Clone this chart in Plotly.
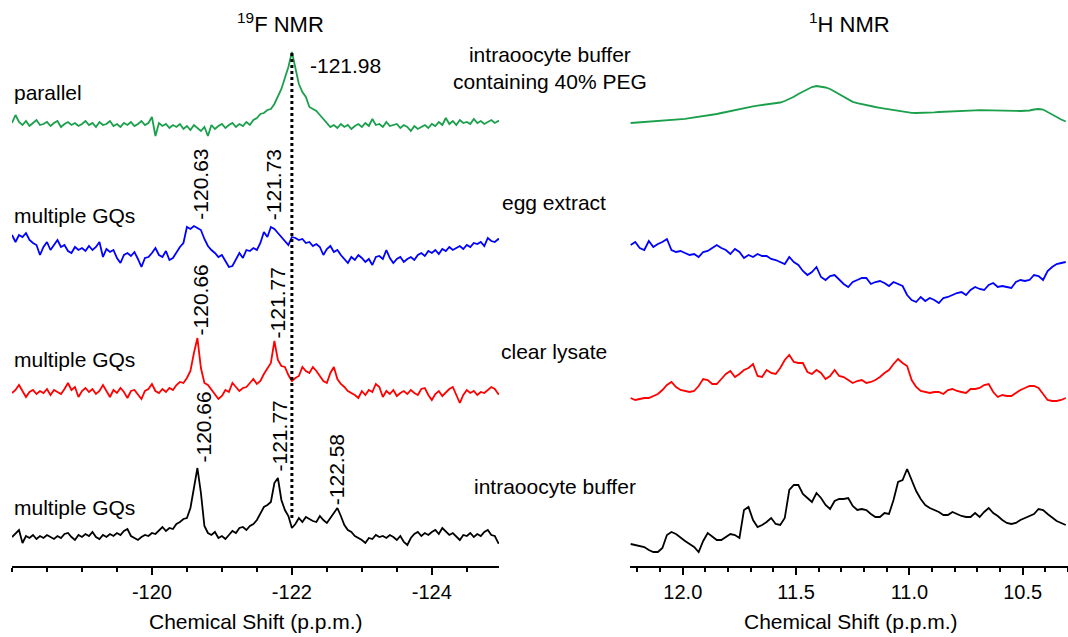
import numpy as np
import plotly.graph_objects as go

# ---------------- data ----------------
# 19F NMR chemical shift grid (p.p.m.), -118.00 ... -125.00 in 0.05 steps
F_PPM = np.round(-118.0 - 0.05 * np.arange(141), 2)
# 1H NMR chemical shift grid (p.p.m.), 12.23 ... 10.31 in 0.02 steps
H_PPM = np.round(12.23 - 0.02 * np.arange(97), 2)

# 19F intensities (arbitrary units)
F_PEG = [4, 12, 5, 2, 6, 1, 4, 7, 2, 3,
         5, 1, 4, 6, 0, 3, 5, 2, 4, 1,
         3, 6, 2, 4, 0, 5, 2, 3, 6, 1,
         3, 0, 4, 2, 5, 1, 3, 6, 2, 4,
         10, -9, 4, 1, 3, -1, 2, 0, 3, -2,
         1, -3, 2, -1, -4, 0, -9, 2, -2, 1,
         3, -1, 2, 4, 0, 3, 1, 5, 2, 7,
         9, 13, 14, 17, 18, 23, 30, 38, 49, 60,
         75, 58, 43, 35, 30, 20, 18, 16, 12, 8,
         4, 0, 2, -1, 3, 0, 2, -2, 1, 3,
         0, 4, 1, 8, 2, 3, 0, 5, 1, 2,
         3, -1, 2, 0, -4, 1, -2, 0, 2, -1,
         3, 1, 5, 2, 9, 3, 6, 2, 7, 4,
         5, 3, 8, 4, 6, 3, 5, 7, 4, 6, 5]
F_EGG = [20, 13, 20, 18, 22, 15, 12, 10, 0, 8,
         13, 5, 10, 15, 8, 10, 4, 2, 8, 5,
         7, 4, 9, 5, 8, 13, -2, 6, 3, 5,
         -3, -8, 0, 2, -1, 3, -4, -12, -3, -2,
         2, 7, 0, -2, 4, -5, -3, 3, 8, 12,
         28, 26, 29, 27, 25, 16, 9, 5, 2, -2,
         0, -6, -12, -11, -4, 2, -3, 5, 4, 7,
         5, 12, 23, 18, 28, 26, 22, 18, 14, 10,
         18, 17, 15, 16, 12, 13, 9, 11, 8, 0,
         6, 9, 3, 5, 0, -4, -8, -2, -5, 0,
         -3, -7, -4, -10, -2, -1, -4, 5, -3, -8,
         -4, -2, -7, -4, -2, -5, 0, 2, -1, 4,
         2, 5, 1, 6, 4, 8, 5, 7, 9, 6,
         10, 8, 12, 11, 13, 9, 17, 14, 13, 16, 15]
F_LYS = [0, 3, 8, 2, -4, 1, 3, -1, 2, 0,
         4, -2, 3, 1, -1, 4, 10, 3, 6, -4,
         2, 5, 1, 4, -1, 2, 8, 2, -4, 3,
         0, 5, 1, -5, 2, 3, -2, -6, 2, 4,
         9, 2, 0, 4, 1, 5, 3, 8, 11, 10,
         15, 22, 40, 55, 25, 10, 8, 3, -2, -6,
         -3, 3, 1, 10, 6, 2, 5, 6, 10, 14,
         9, 12, 19, 24, 30, 52, 33, 27, 26, 18,
         12, 15, 17, 26, 22, 20, 26, 22, 17, 12,
         10, 20, 26, 14, 9, 6, 2, 0, -2, -5,
         2, -2, 3, 1, 9, 6, -4, 2, -1, 3,
         -3, 0, 2, -1, 3, 0, -2, 4, 5, -2,
         -7, -1, 2, -3, 1, 4, 6, -2, -10, -2,
         3, 0, 2, -2, 1, 0, 3, 6, 4, -1, 0]
F_BUF = [1, 5, 8, -5, 2, 0, 3, -1, 2, 0,
         3, 1, -1, 2, 0, 4, 5, 1, -2, 3,
         1, 4, 2, 6, 1, -1, 3, 1, 4, 2,
         5, 3, 7, 9, 2, 0, -2, 1, 3, 2,
         5, 4, 8, 11, 7, 10, 9, 14, 16, 19,
         20, 30, 50, 70, 45, 12, 5, 3, 6, 0,
         2, -1, 3, 7, 5, 10, 11, 8, 12, 14,
         18, 25, 31, 33, 36, 55, 60, 38, 28, 22,
         10, 14, 20, 16, 21, 19, 17, 16, 22, 18,
         15, 20, 25, 30, 22, 13, 8, 6, 2, 0,
         -2, -5, 0, -1, 3, 1, 2, 0, 3, 1,
         -2, 2, -4, -7, 0, 4, 6, 2, 5, 3,
         6, 8, 4, 10, 6, 3, 5, 1, -2, 3,
         2, 5, 1, 4, 2, 6, 8, 3, 2, -5, -4]

# 1H intensities (arbitrary units)
H_PEG = [2, 2.3, 2.6, 2.9, 3.2, 3.5, 3.8, 4.2, 4.5, 5,
         5.5, 5.8, 6.2, 6.8, 7.4, 8, 8.8, 9.5, 10.2, 11,
         12, 13, 14, 15, 16.2, 17.2, 18, 18.6, 19.4, 20,
         20.7, 21.2, 21.8, 22.5, 24, 26, 28.2, 31, 33.5, 36,
         38, 39, 38.5, 37.5, 36, 33.5, 30.5, 27.7, 25.2, 23.2,
         21.8, 20.7, 19.7, 19, 18, 17.2, 16.4, 15.5, 14.7, 14,
         13.2, 12.7, 12.2, 12, 12, 12.2, 12.4, 12.7, 13, 13.3,
         13.6, 13.8, 14, 14.2, 14.4, 14.5, 14.7, 14.8, 14.8, 14.7,
         14.6, 14.5, 14.4, 14.3, 14.2, 14.1, 14, 14, 14.5, 15.5,
         16, 15.5, 13, 10, 8, 5.5, 3.5]
H_EGG = [10, 13, 7, 5, 14, 8, 11, 13, 16, 5,
         3, 4, 2, 0, 1, -2, 3, 4, 7, 10,
         7, 5, 1, 6, 3, -3, 0, -2, 1, -1,
         -1, -4, -5, -7, -9, -2, -7, -10, -16, -20,
         -17, -12, -22, -25, -21, -20, -25, -29, -32, -27,
         -25, -23, -23, -29, -27, -26, -28, -31, -27, -29,
         -31, -40, -45, -47, -42, -46, -43, -45, -48, -43,
         -42, -40, -38, -37, -40, -35, -32, -34, -35, -30,
         -28, -32, -31, -32, -33, -27, -25, -26, -25, -20,
         -21, -25, -16, -12, -9, -8, -7]
H_LYS = [-5, -7, -6, -5, -5, -3, -1, 3, 8, 11,
         6, 3, 2, 1, 2, 7, 14, 13, 9, 9,
         14, 19, 22, 16, 19, 23, 25, 29, 17, 16,
         23, 20, 19, 25, 33, 38, 31, 30, 30, 21,
         19, 23, 20, 14, 17, 23, 17, 16, 13, 10,
         12, 13, 10, 11, 13, 16, 20, 23, 29, 34,
         30, 27, 13, 6, 2, 1, 0, 1, 1, -1,
         3, 4, 2, 1, 0, 4, 4, 5, 8, 9,
         1, -4, -2, -3, -3, 0, 3, 5, 7, 7,
         5, -1, -7, -8, -8, -7, -5]
H_BUF = [-6, -7, -8, -9, -12, -14, -14, -10, 3, 6,
         4, 0, -3, -6, -9, -14, -3, 5, 1, -2,
         -2, 1, 4, 3, 0, 28, 31, 18, 11, 13,
         16, 20, 14, 13, 20, 48, 53, 53, 44, 40,
         36, 45, 40, 33, 29, 37, 39, 39, 40, 32,
         28, 29, 28, 24, 21, 21, 25, 24, 38, 56,
         58, 69, 57, 47, 39, 33, 30, 28, 26, 23,
         23, 26, 24, 22, 21, 21, 25, 21, 26, 30,
         25, 22, 18, 15, 14, 15, 18, 20, 22, 24,
         29, 28, 24, 20, 17, 15, 13]

SAMPLES = ["intraoocyte buffer<br>containing 40% PEG", "egg extract",
           "clear lysate", "intraoocyte buffer"]
F_STATES = ["parallel", "multiple GQs", "multiple GQs", "multiple GQs"]
PEAK_LABELS = [("-120.63", 0), ("-121.73", 0), ("-120.66", 1), ("-121.77", 1),
               ("-120.66", 2), ("-121.77", 2), ("-122.58", 2)]
PEG_PEAK = "-121.98"
TICK_F = [-120, -122, -124]
TICK_H = [12.0, 11.5, 11.0, 10.5]
AXIS_TITLE = "Chemical Shift (p.p.m.)"

# ---------------- styling / layout ----------------
COLORS = ["#1a9f4b", "#0000ff", "#ff0000", "#000000"]
F_OFFSETS = [439, 311, 173, 28]
H_OFFSETS = [441, 311, 173, 28]
FONT = "Liberation Sans, Arial, sans-serif"
W, H = 1068, 637
YTOP = 566

fig = go.Figure()
for ys, off, col in zip([F_PEG, F_EGG, F_LYS, F_BUF], F_OFFSETS, COLORS):
    fig.add_trace(go.Scatter(x=F_PPM, y=[v + off for v in ys], mode="lines",
                             line=dict(color=col, width=1.8), xaxis="x", yaxis="y",
                             showlegend=False, hoverinfo="skip"))
for ys, off, col in zip([H_PEG, H_EGG, H_LYS, H_BUF], H_OFFSETS, COLORS):
    fig.add_trace(go.Scatter(x=H_PPM, y=[v + off for v in ys], mode="lines",
                             line=dict(color=col, width=1.8), xaxis="x2", yaxis="y2",
                             showlegend=False, hoverinfo="skip"))

axcommon = dict(showgrid=False, zeroline=False, showline=True, linecolor="black",
                linewidth=2, ticks="outside", ticklen=7, tickwidth=1.5,
                tickcolor="black", tickfont=dict(family=FONT, size=20, color="black"),
                mirror=False)
fig.update_layout(
    width=W, height=H, margin=dict(l=0, r=0, t=0, b=H - YTOP),
    paper_bgcolor="white", plot_bgcolor="white",
    xaxis=dict(domain=[12 / W, 499 / W], range=[-118, -124.96], tickvals=TICK_F,
               ticktext=[str(t) for t in TICK_F],
               minor=dict(dtick=0.5, tick0=-118, ticklen=4, tickwidth=1.5,
                          tickcolor="black", ticks="outside"),
               anchor="y", **axcommon),
    xaxis2=dict(domain=[630 / W, 1.0], range=[12.233, 10.30], tickvals=TICK_H,
                ticktext=["%.1f" % t for t in TICK_H],
                minor=dict(dtick=0.1, tick0=10.0, ticklen=4, tickwidth=1.5,
                           tickcolor="black", ticks="outside"),
                anchor="y2", **axcommon),
    yaxis=dict(domain=[0, 1], range=[0, YTOP], visible=False, anchor="x"),
    yaxis2=dict(domain=[0, 1], range=[0, YTOP], visible=False, anchor="x2"),
)

# dotted reference line at the PEG (parallel) peak
fig.add_shape(type="line", xref="x", yref="y", x0=-122.0, x1=-122.0,
              y0=YTOP - 518, y1=YTOP - 50,
              line=dict(color="black", width=3, dash="dot"))

ann = []
def txt(text, x, ypix, xref="paper", xanchor="center", yanchor="middle",
        size=21, angle=0):
    ann.append(dict(text=text, x=x, y=(YTOP - ypix) / YTOP, xref=xref, yref="paper",
                    xanchor=xanchor, yanchor=yanchor, showarrow=False,
                    textangle=angle, align="center",
                    font=dict(family=FONT, size=size, color="black")))

# titles
txt("<sup>19</sup>F NMR", 280 / W, 23, size=22)
txt("<sup>1</sup>H NMR", 850 / W, 23, size=22)
# axis titles
txt(AXIS_TITLE, 256 / W, 621)
txt(AXIS_TITLE, 851 / W, 621)
# state labels at left
for s, yp in zip(F_STATES, [92, 215, 359, 507]):
    txt(s, 12 / W, yp, xanchor="left")
# sample labels in the middle
for s, (xp, yp) in zip(SAMPLES, [(550, 68), (554, 202), (554, 351), (555, 486)]):
    txt(s, xp / W, yp)
# PEG peak label
txt(PEG_PEAK, -122.23, 65, xref="x", xanchor="left")
# rotated peak labels
pos = [(-120.69, 222), (-121.74, 222), (-120.70, 337), (-121.80, 340),
       (-120.73, 465), (-121.83, 473), (-122.64, 507)]
for (lab, _), (xp, yb) in zip(PEAK_LABELS, pos):
    txt(lab, xp, yb, xref="x", yanchor="bottom", angle=-90)

fig.update_layout(annotations=ann)
fig.write_html("out.html")
